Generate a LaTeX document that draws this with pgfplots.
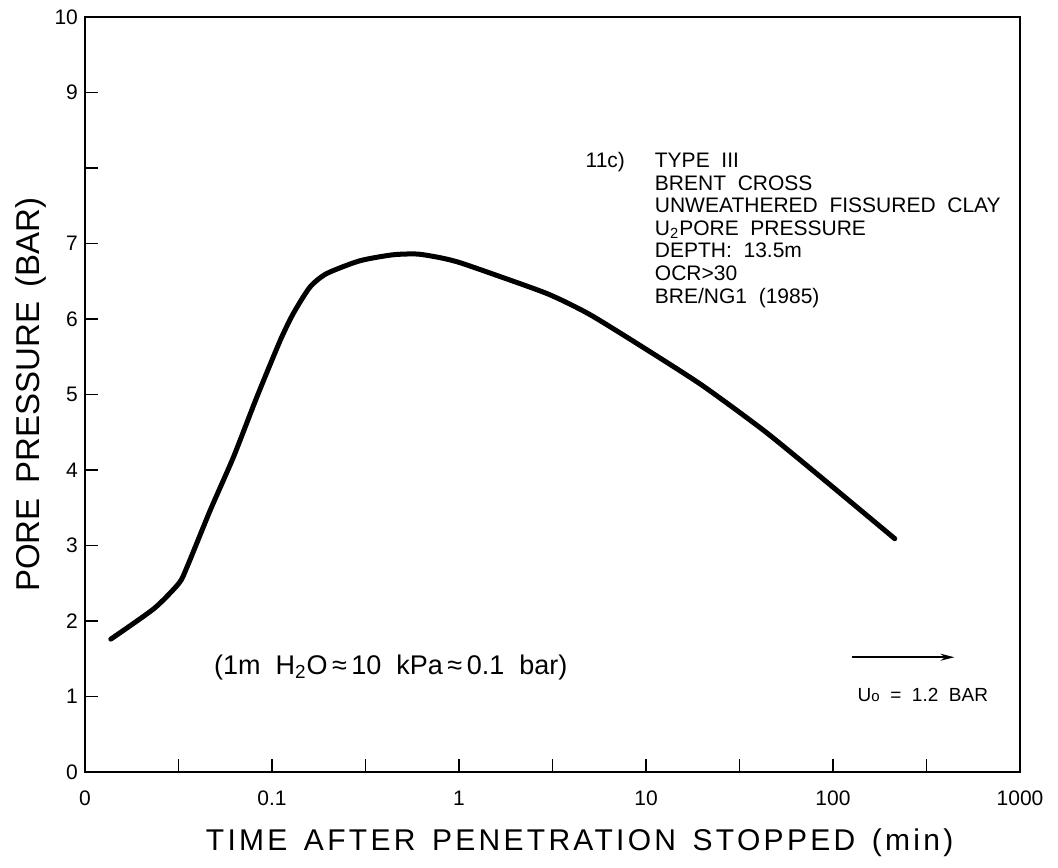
\documentclass[border=0pt]{standalone}
\usepackage{fontspec}
\setmainfont{Liberation Sans}
\usepackage{pgfplots}
\pgfplotsset{compat=1.18}
\usetikzlibrary{arrows.meta}

\pgfplotstableread{
x y
0.01374 1.76
0.0234 2.165
0.0318 2.50
0.0352 2.72
0.0468 3.47
0.0622 4.17
0.0828 4.96
0.1104 5.71
0.1298 6.07
0.1593 6.42
0.1954 6.60
0.294 6.77
0.442 6.85
0.60 6.86
0.80 6.81
1.0 6.75
1.5 6.60
3.0 6.33
5.0 6.06
10.0 5.60
20.0 5.12
42.8 4.52
85.7 3.91
214 3.09
}\curve

\begin{document}
\begin{tikzpicture}
\begin{axis}[
  name=ax,
  at={(0,0)}, anchor=south west,
  scale only axis,
  width=467.5pt, height=377.5pt,
  xmode=log,
  xmin=0.01, xmax=1000,
  ymin=0, ymax=10,
  xtick={0.01,0.1,1,10,100,1000},
  xticklabels={0,0.1,1,10,100,1000},
  minor xtick={0.0316,0.316,3.16,31.6,316},
  ytick={0,1,2,3,4,5,6,7,8,9,10},
  yticklabels={0,1,2,3,4,5,6,7,,9,10},
  xtick pos=bottom, ytick pos=left,
  tick align=inside,
  major tick length=6.5pt, minor tick length=6.5pt,
  every tick/.style={black, line width=0.8pt},
  axis line style={line width=1.3pt},
  /pgf/number format/assume math mode=true,
  tick label style={font=\fontsize{10.5}{12}\selectfont},
  xticklabel style={yshift=-6pt},
  xlabel={\addfontfeature{LetterSpace=11}TIME\hspace{0.55em}AFTER\hspace{0.55em}PENETRATION\hspace{0.55em}STOPPED\hspace{0.55em}(min)},
  ylabel={PORE\hspace{0.45em}PRESSURE\hspace{0.45em}(BAR)},
  every axis x label/.style={at={(axis description cs:0.529,-0.094)}, anchor=center, font=\fontsize{15}{18}\selectfont},
  every axis y label/.style={at={(axis description cs:-0.0578,0.5)}, rotate=90, anchor=center, font=\fontsize{16.5}{19}\selectfont},
  clip=false,
]
\addplot[black, line width=2.5pt, smooth, tension=0.4, line cap=round] table[x=x, y=y] {\curve};

\node[anchor=north west, inner sep=0pt, font=\fontsize{10.5}{11.3}\selectfont]
  at (axis description cs:0.535,0.822) {%
  \begin{tabular}{@{}l@{\hspace{15pt}}l@{}}
  11c) & TYPE\ \ III\\
       & BRENT\ \ CROSS\\
       & UNWEATHERED\ \ FISSURED\ \ CLAY\\
       & U\textsubscript{2}PORE\ \ PRESSURE\\
       & DEPTH:\ \ 13.5m\\
       & OCR>30\\
       & BRE/NG1\ \ (1985)
  \end{tabular}};

\node[anchor=center, inner sep=0pt, font=\fontsize{13.5}{16}\selectfont]
  at (axis description cs:0.327,0.139)
  {(1m\ \ H\textsubscript{2}O\,≈\,10\ \ kPa\,≈\,0.1\ \ bar)};

\draw[line width=0.8pt, -{Stealth[length=7pt, width=3.5pt]}] (axis cs:126,1.52) -- (axis cs:446,1.52);

\node[anchor=base west, inner sep=0pt, font=\fontsize{9.5}{11}\selectfont]
  at (axis description cs:0.826,0.093)
  {U{\fontsize{7.5}{9}\selectfont o}\ \ =\ \ 1.2\ \ BAR};
\end{axis}
\pgfresetboundingbox
\path ([xshift=-42.5pt,yshift=-47.5pt]ax.south west) rectangle ([xshift=19pt,yshift=8.5pt]ax.north east);
\end{tikzpicture}
\end{document}
